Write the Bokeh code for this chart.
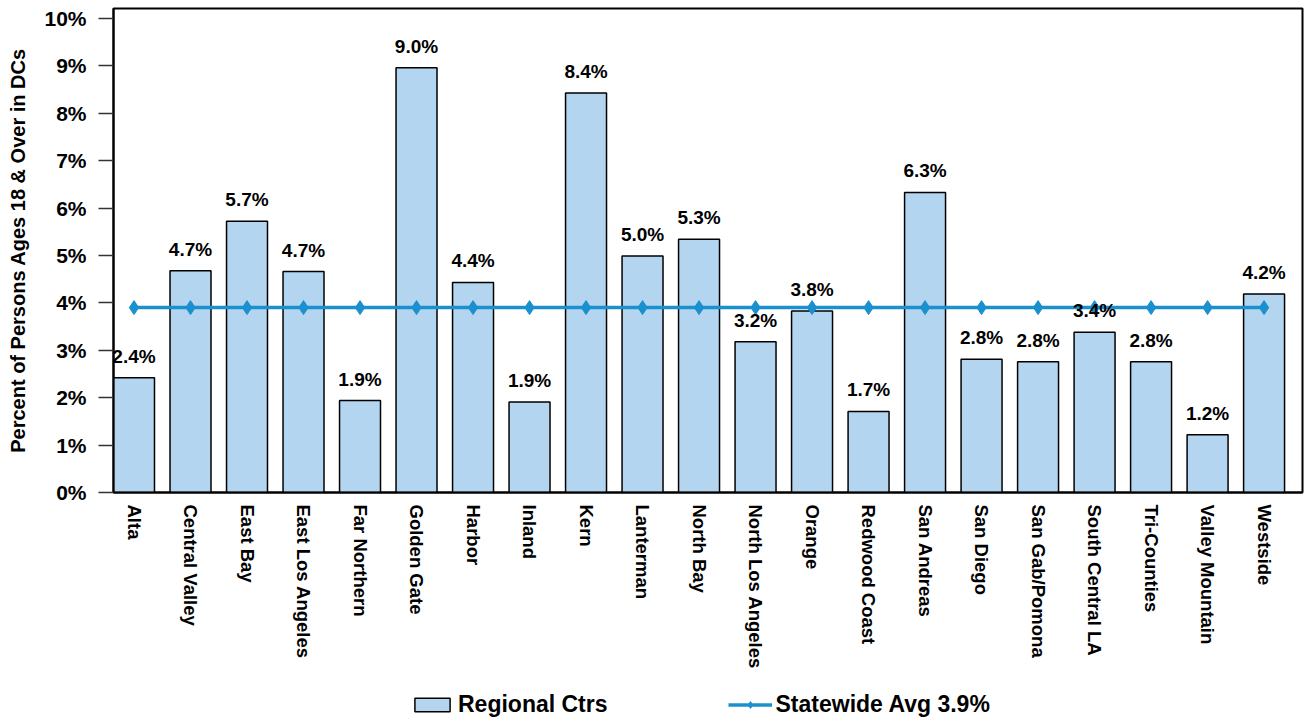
from bokeh.plotting import figure
from bokeh.models import (ColumnDataSource, Range1d, FixedTicker, PrintfTickFormatter,
                          Legend, LegendItem)
from bokeh.layouts import column
from bokeh.embed import file_html
from bokeh.resources import INLINE
from bokeh.core.properties import value

categories = ["Alta", "Central Valley", "East Bay", "East Los Angeles", "Far Northern",
              "Golden Gate", "Harbor", "Inland", "Kern", "Lanterman", "North Bay",
              "North Los Angeles", "Orange", "Redwood Coast", "San Andreas", "San Diego",
              "San Gab/Pomona", "South Central LA", "Tri-Counties", "Valley Mountain",
              "Westside"]
regional = [2.42, 4.68, 5.72, 4.66, 1.94, 8.96, 4.43, 1.91, 8.43, 4.99, 5.34,
            3.18, 3.83, 1.71, 6.33, 2.81, 2.76, 3.38, 2.76, 1.22, 4.19]
statewide_avg = 3.9
y_ticks = [0, 1, 2, 3, 4, 5, 6, 7, 8, 9, 10]
series_names = ["Regional Ctrs", "Statewide Avg 3.9%"]

FONT = "Liberation Sans"
BAR_FILL = "#B4D5EF"
LINE_COLOR = "#1A90CF"

xs = list(range(len(categories)))
labels = [f"{v:.1f}%" for v in regional]
src = ColumnDataSource(dict(x=xs, y=regional, lab=labels))
avg_src = ColumnDataSource(dict(x=xs, y=[statewide_avg] * len(xs)))

p = figure(width=1304, height=685, output_backend="svg", toolbar_location=None,
           x_range=Range1d(-0.363, 20.68), y_range=Range1d(0, 10.21),
           min_border_left=113, min_border_right=2, min_border_top=8,
           min_border_bottom=193)
p.grid.visible = False
p.outline_line_color = "black"
p.outline_line_width = 2
p.background_fill_color = "white"
p.border_fill_color = "white"

p.vbar(x="x", top="y", width=0.725, source=src, fill_color=BAR_FILL,
       line_color="black", line_width=1.5)
p.line(x="x", y="y", source=avg_src, line_color=LINE_COLOR, line_width=3.5)
p.scatter(x="x", y="y", source=avg_src, marker="diamond", size=14,
          fill_color=LINE_COLOR, line_color=LINE_COLOR)

p.text(x="x", y="y", text="lab", source=src, text_align="center",
       text_baseline="bottom", y_offset=-11, text_font=value(FONT),
       text_font_style="bold", text_font_size="19px", text_color="black")

# y axis
ya = p.yaxis[0]
ya.ticker = FixedTicker(ticks=y_ticks)
ya.formatter = PrintfTickFormatter(format="%d%%")
ya.major_label_text_font = FONT
ya.major_label_text_font_style = "bold"
ya.major_label_text_font_size = "21px"
ya.major_label_text_color = "black"
ya.major_tick_out = 15
ya.major_tick_in = 0
ya.major_tick_line_color = "#333333"
ya.major_tick_line_width = 1.5
ya.minor_tick_line_color = None
ya.axis_line_color = "black"
ya.axis_line_width = 2
ya.major_label_standoff = 12
ya.axis_label = "Percent of Persons Ages 18 & Over in DCs"
ya.axis_label_text_font = FONT
ya.axis_label_text_font_style = "bold"
ya.axis_label_text_font_size = "20px"
ya.axis_label_text_color = "black"
ya.axis_label_standoff = 12

# x axis
xa = p.xaxis[0]
xa.ticker = FixedTicker(ticks=xs)
xa.major_label_overrides = {i: c for i, c in enumerate(categories)}
xa.major_label_orientation = "vertical"
xa.major_label_text_font = FONT
xa.major_label_text_font_style = "bold"
xa.major_label_text_font_size = "18.5px"
xa.major_label_text_color = "black"
xa.major_tick_out = 0
xa.major_tick_in = 0
xa.minor_tick_line_color = None
xa.axis_line_color = "black"
xa.axis_line_width = 2
xa.major_label_standoff = 12

# legend strip below the chart (its renderers reuse the chart's data and stay hidden)
lp = figure(width=1304, height=34, output_backend="svg", toolbar_location=None,
            x_range=Range1d(0, 1), y_range=Range1d(100, 101),
            min_border_left=0, min_border_right=0, min_border_top=0,
            min_border_bottom=0, x_axis_location=None, y_axis_location=None)
lp.grid.visible = False
lp.outline_line_color = None
lp.background_fill_color = "white"
lp.border_fill_color = "white"
lb = lp.vbar(x="x", top="y", width=0.725, source=src,
             fill_color=BAR_FILL, line_color="black", line_width=1.5, visible=False)
ll = lp.line(x="x", y="y", source=avg_src, line_color=LINE_COLOR, line_width=3.5,
             visible=False)
lm = lp.scatter(x="x", y="y", source=avg_src, marker="diamond",
                size=14, fill_color=LINE_COLOR, line_color=LINE_COLOR, visible=False)

legend = Legend(items=[LegendItem(label=series_names[0], renderers=[lb]),
                       LegendItem(label=series_names[1], renderers=[ll, lm])],
                location=(297, 1), orientation="horizontal",
                label_text_font=FONT, label_text_font_style="bold",
                label_text_font_size="23px", label_text_color="black",
                glyph_width=44, glyph_height=17, padding=0, margin=0,
                spacing=120, label_standoff=4, border_line_color=None,
                background_fill_alpha=0, inactive_fill_alpha=0)
lp.add_layout(legend)

layout = column(p, lp, spacing=0)
open("out.html", "w").write(file_html(layout, INLINE))
